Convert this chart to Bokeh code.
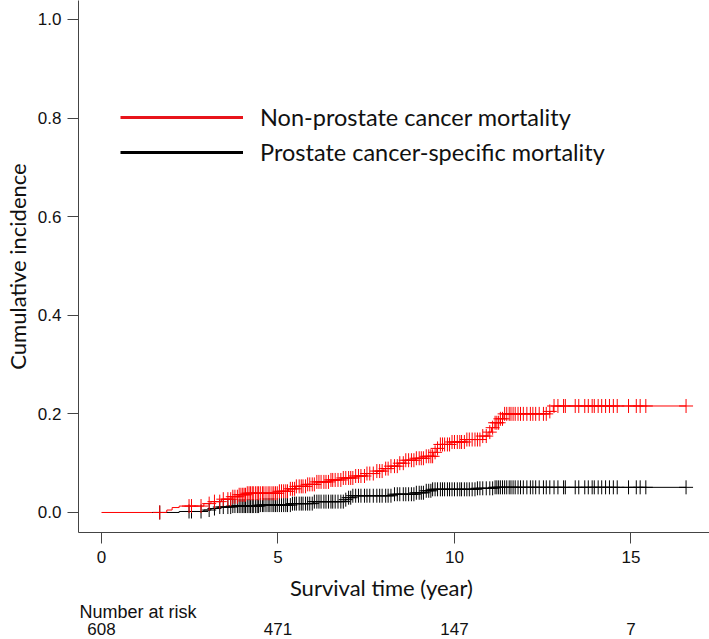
import numpy as np
from bokeh.plotting import figure
from bokeh.layouts import column
from bokeh.models import (Range1d, FixedTicker, PrintfTickFormatter,
                          Legend, LegendItem, ColumnDataSource)
from bokeh.core.properties import value
from bokeh.embed import file_html
from bokeh.resources import INLINE

# ---------------- data ----------------
series_names = ["Non-prostate cancer mortality", "Prostate cancer-specific mortality"]

# Non-prostate cancer mortality: step times (years) and cumulative incidence
npcm_times = [0, 1.85, 2.0, 2.2, 2.9, 3.1, 3.4, 3.7, 3.9, 4.1, 5.0, 5.3, 5.5, 5.8,
              6.1, 6.5, 6.8, 7.2, 7.5, 7.8, 8.0, 8.2, 8.4, 8.6, 8.9, 9.2, 9.4, 9.5,
              9.6, 9.9, 10.3, 10.8, 10.95, 11.05, 11.15, 11.3, 11.4, 12.7, 12.8, 16.56]
npcm_values = [0, 0.005, 0.010, 0.013, 0.018, 0.022, 0.027, 0.032, 0.036, 0.039,
               0.043, 0.048, 0.053, 0.057, 0.062, 0.066, 0.070, 0.074, 0.079, 0.084,
               0.089, 0.094, 0.100, 0.106, 0.110, 0.114, 0.122, 0.130, 0.138, 0.143,
               0.148, 0.155, 0.163, 0.172, 0.182, 0.190, 0.200, 0.205, 0.216, 0.216]

# Prostate cancer-specific mortality
pcsm_times = [1.44, 2.2, 2.9, 3.1, 3.3, 3.7, 4.5, 5.4, 6.0, 6.9, 7.0, 7.1, 8.3, 8.9,
              9.2, 9.35, 10.6, 11.1, 16.56]
pcsm_values = [0, 0.002, 0.005, 0.008, 0.011, 0.013, 0.015, 0.018, 0.022, 0.026,
               0.030, 0.034, 0.037, 0.040, 0.044, 0.047, 0.049, 0.051, 0.051]

# censoring times (years)
censor_times = [1.65, 2.48, 2.55, 2.82, 3.05, 3.2, 3.35, 3.45, 3.58, 3.66, 3.72, 3.78,
                3.85, 3.9, 3.95, 4.0, 4.04, 4.08, 4.13, 4.18, 4.22, 4.27, 4.3, 4.36,
                4.41, 4.45, 4.5, 4.56, 4.6, 4.66, 4.72, 4.77, 4.83, 4.88, 4.93, 4.98,
                5.04, 5.1, 5.16, 5.22, 5.27, 5.35, 5.41, 5.47, 5.52, 5.6, 5.66, 5.71,
                5.78, 5.84, 5.9, 5.97, 6.03, 6.1, 6.16, 6.22, 6.3, 6.36, 6.43, 6.5,
                6.55, 6.62, 6.7, 6.78, 6.85, 6.92, 7.0, 7.06, 7.12, 7.2, 7.28, 7.35,
                7.45, 7.52, 7.6, 7.7, 7.8, 7.88, 7.95, 8.05, 8.12, 8.2, 8.3, 8.38,
                8.45, 8.55, 8.62, 8.7, 8.78, 8.85, 8.92, 9.0, 9.06, 9.12, 9.2, 9.27,
                9.33, 9.38, 9.45, 9.52, 9.6, 9.66, 9.72, 9.8, 9.86, 9.93, 10.0, 10.08,
                10.15, 10.2, 10.28, 10.35, 10.42, 10.5, 10.58, 10.65, 10.72, 10.8,
                10.9, 11.0, 11.08, 11.15, 11.2, 11.25, 11.3, 11.36, 11.42, 11.48,
                11.55, 11.6, 11.66, 11.72, 11.8, 11.87, 11.95, 12.05, 12.15, 12.22,
                12.3, 12.4, 12.52, 12.6, 12.7, 12.82, 12.93, 13.09, 13.14, 13.42,
                13.52, 13.69, 13.79, 13.9, 13.96, 14.07, 14.17, 14.28, 14.39, 14.5,
                14.61, 14.93, 15.15, 15.26, 15.42, 16.56]

risk_times = [0, 5, 10, 15]
risk_counts = [608, 471, 147, 7]
x_ticks = [0, 5, 10, 15]
y_ticks = [0.0, 0.2, 0.4, 0.6, 0.8, 1.0]

x_title = "Survival time (year)"
y_title = "Cumulative incidence"
risk_title = "Number at risk"

# ---------------- style constants ----------------
X_START, X_END = -0.6516, 17.224
Y_START, Y_END = -0.0406, 1.0385
AXIS_COL = "#444444"
TEXT_COL = "#111111"
TICK_FONT = "Liberation Sans"
LABEL_FONT = "Lato"
XTITLE_X = 7.93          # horizontal centre of the x title (data units)
ROW_XTITLE, ROW_RISKTITLE, ROW_RISK = 52, 28, 11   # pixel rows in the table strip


def step_value(times, values, t):
    idx = np.searchsorted(np.asarray(times), np.asarray(t), side="right") - 1
    idx = np.clip(idx, 0, len(values) - 1)
    return np.asarray(values)[idx]


npcm_cens = ColumnDataSource(dict(x=censor_times,
                                  y=step_value(npcm_times, npcm_values, censor_times)))
pcsm_cens = ColumnDataSource(dict(x=censor_times,
                                  y=step_value(pcsm_times, pcsm_values, censor_times)))

# ---------------- main figure ----------------
p = figure(width=709, height=572, output_backend="svg", toolbar_location=None,
           x_range=Range1d(X_START, X_END), y_range=Range1d(Y_START, Y_END),
           min_border_left=78, min_border_right=0, min_border_top=0,
           min_border_bottom=40)
p.outline_line_color = None
p.grid.visible = False
p.background_fill_color = "white"
p.border_fill_color = "white"

for ax in (p.xaxis[0], p.yaxis[0]):
    ax.axis_line_color = AXIS_COL
    ax.major_tick_line_color = AXIS_COL
    ax.minor_tick_line_color = None
    ax.major_tick_in = 0
    ax.major_tick_out = 11
    ax.major_label_text_font = TICK_FONT
    ax.major_label_text_font_size = "17px"
    ax.major_label_text_color = TEXT_COL

p.xaxis.ticker = FixedTicker(ticks=x_ticks)
p.xaxis.major_label_standoff = 7
p.yaxis.ticker = FixedTicker(ticks=y_ticks)
p.yaxis.formatter = PrintfTickFormatter(format="%.1f")
p.yaxis.major_label_standoff = 6
p.yaxis.axis_label = y_title
p.yaxis.axis_label_text_font = LABEL_FONT
p.yaxis.axis_label_text_font_style = "normal"
p.yaxis.axis_label_text_font_size = "22px"
p.yaxis.axis_label_text_color = TEXT_COL
p.yaxis.axis_label_text_line_height = 1.0
p.yaxis.axis_label_standoff = 4

# curves
p.step(npcm_times, npcm_values, mode="after", line_color="red", line_width=1)
p.step(pcsm_times, pcsm_values, mode="after", line_color="black", line_width=1)
p.scatter("x", "y", source=pcsm_cens, marker="cross", size=14,
          line_color="black", line_width=1)
p.scatter("x", "y", source=npcm_cens, marker="cross", size=14,
          line_color="red", line_width=1)

# legend (thick lines); single-point renderers draw nothing in the plot
leg_red = p.line(x=npcm_times[:1], y=npcm_values[:1], line_color="#e8141b", line_width=3)
leg_blk = p.line(x=pcsm_times[:1], y=pcsm_values[:1], line_color="black", line_width=3)
legend = Legend(items=[LegendItem(label=series_names[0], renderers=[leg_red]),
                       LegendItem(label=series_names[1], renderers=[leg_blk])],
                location=(42, 365), glyph_width=123, glyph_height=30,
                label_height=30, spacing=5, label_standoff=17, padding=0, margin=0,
                border_line_color=None, background_fill_alpha=0,
                label_text_font=LABEL_FONT, label_text_font_size="23.5px",
                label_text_color=TEXT_COL)
p.add_layout(legend)

# ---------------- strip below: x title and number-at-risk table ----------------
t = figure(width=709, height=67, output_backend="svg", toolbar_location=None,
           x_range=p.x_range, y_range=Range1d(0, 67),
           x_axis_location=None, y_axis_location=None,
           min_border_left=78, min_border_right=0, min_border_top=0,
           min_border_bottom=0)
t.outline_line_color = None
t.grid.visible = False
t.background_fill_color = "white"
t.border_fill_color = "white"

t.text(x=[XTITLE_X], y=[ROW_XTITLE], text=[x_title], text_align="center",
       text_baseline="middle", text_font=value(LABEL_FONT),
       text_font_size=value("22px"), text_color=TEXT_COL)
t.text(x=[X_START], y=[ROW_RISKTITLE], text=[risk_title], text_align="left",
       text_baseline="middle", x_offset=1, text_font=value(TICK_FONT),
       text_font_size=value("18px"), text_color=TEXT_COL)
t.text(x=risk_times, y=[ROW_RISK] * len(risk_times), text=[str(n) for n in risk_counts],
       text_align="center", text_baseline="middle", text_font=value(TICK_FONT),
       text_font_size=value("17px"), text_color=TEXT_COL)

layout = column(p, t, spacing=0)
open("out.html", "w").write(file_html(layout, INLINE))
